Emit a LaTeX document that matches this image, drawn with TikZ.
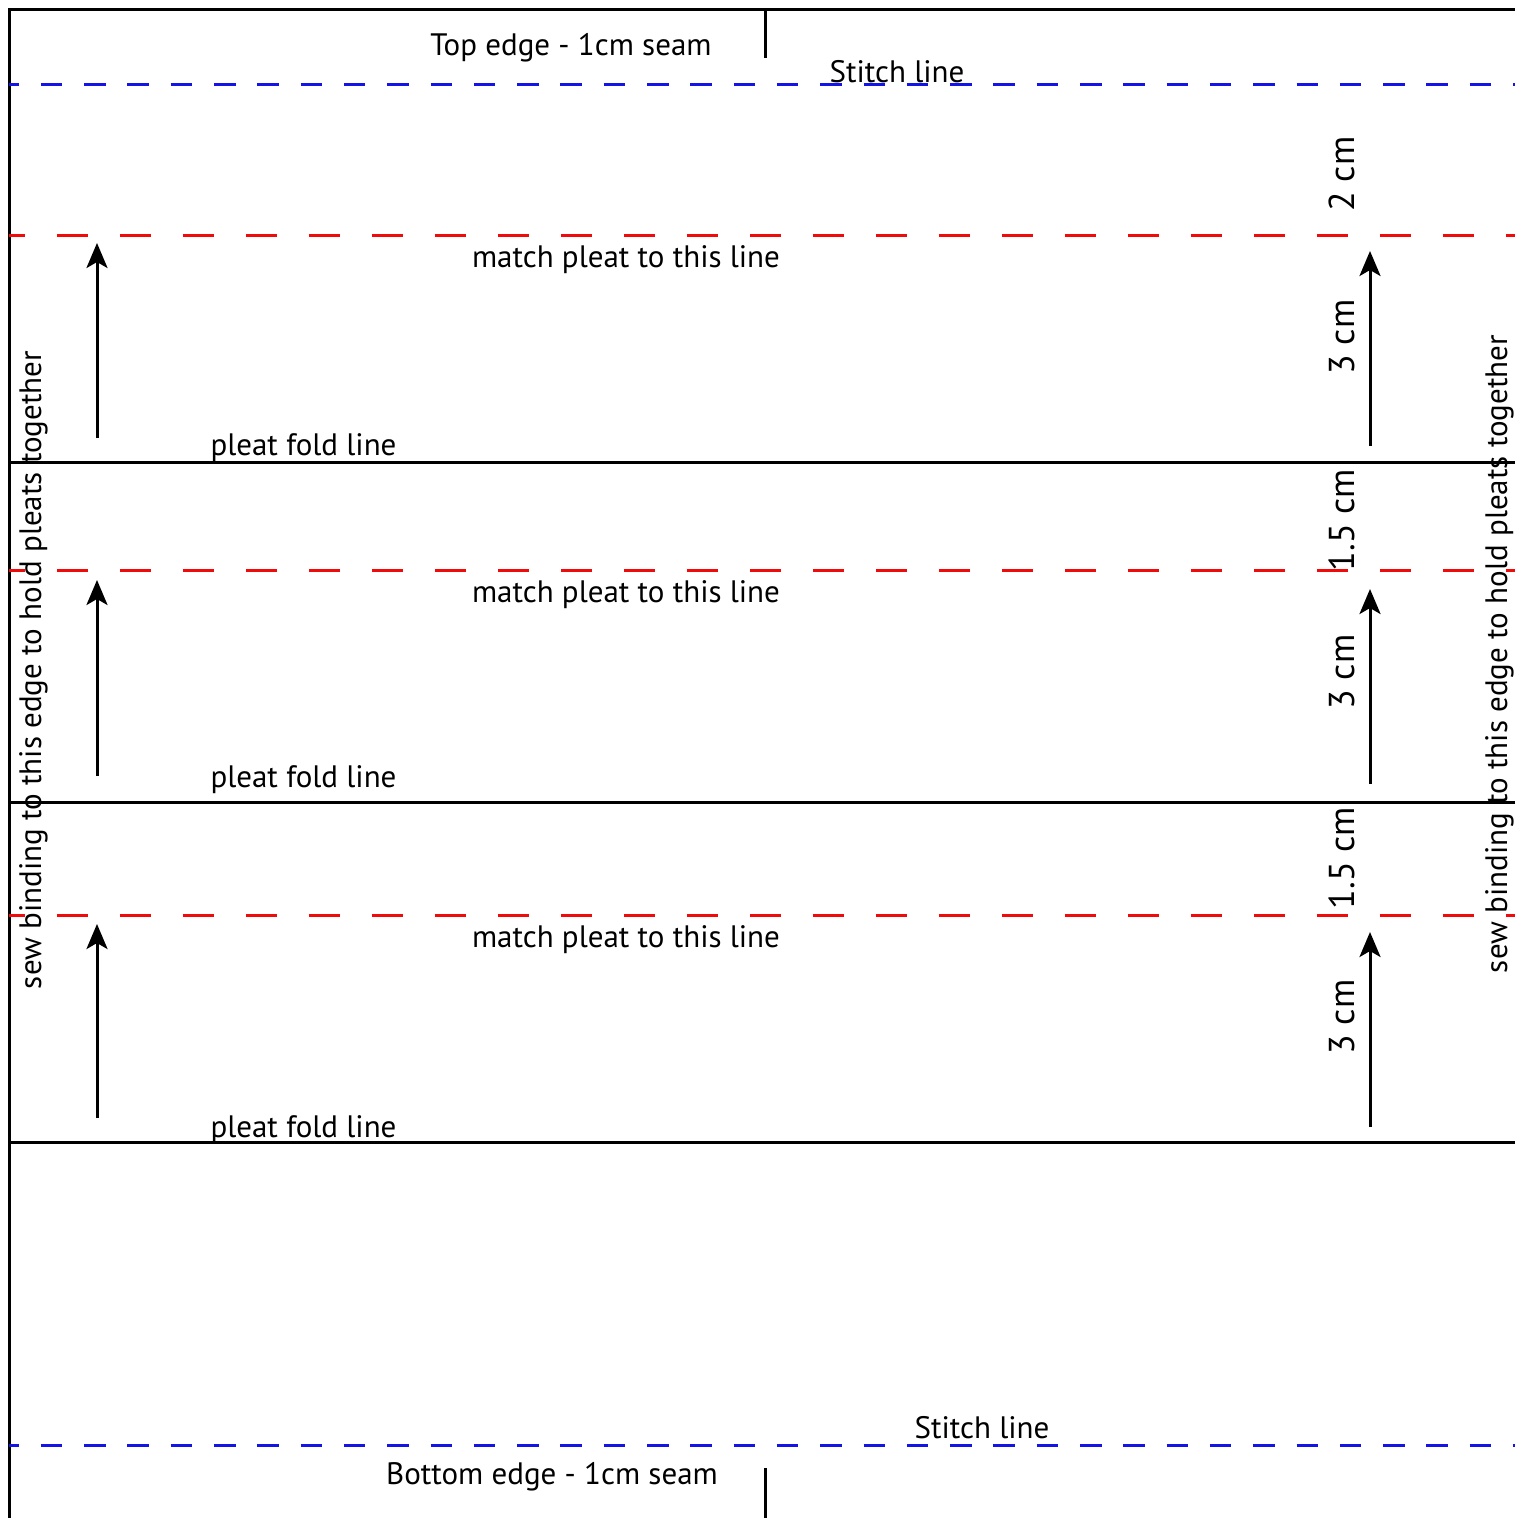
\documentclass[tikz,border=0pt]{standalone}
\usepackage{fontspec}
\setmainfont{PT Sans}
\usetikzlibrary{arrows.meta}
\tikzset{
  blk/.style={line width=3pt, black},
  bluedash/.style={line width=3pt, color={rgb,255:red,20;green,20;blue,230}, dash pattern=on 21.5pt off 21.8pt, dash phase=11.5pt},
  reddash/.style={line width=3pt, color={rgb,255:red,240;green,10;blue,10}, dash pattern=on 31pt off 32pt, dash phase=15pt},
  arr/.style={line width=3pt, -{Stealth[length=25pt, width=21pt, inset=6pt]}},
  lbl/.style={font=\fontsize{31}{36}\selectfont, inner sep=0pt, anchor=base},
  vlbl/.style={font=\fontsize{31}{36}\selectfont, inner sep=0pt, anchor=base, rotate=90},
  cmlbl/.style={font=\fontsize{36}{42}\selectfont, inner sep=0pt, anchor=base, rotate=90}
}
\begin{document}
\begin{tikzpicture}[x=1pt,y=-1pt]
\useasboundingbox (0,0) rectangle (1515,1518);
% frame
\draw[blk] (9,1525) -- (9,9) -- (1525,9);
\draw[blk] (765,9) -- (765,58);
\draw[blk] (765,1468) -- (765,1525);
% stitch lines
\draw[bluedash] (9,84.5) -- (1525,84.5);
\draw[bluedash] (9,1445) -- (1525,1445);
% match lines
\draw[reddash] (9,235) -- (1525,235);
\draw[reddash] (9,570) -- (1525,570);
\draw[reddash] (9,915) -- (1525,915);
% fold lines
\draw[blk] (9,462) -- (1525,462);
\draw[blk] (9,802) -- (1525,802);
\draw[blk] (9,1142) -- (1525,1142);
% arrows
\coordinate (la1s) at (97,438);  \coordinate (la1e) at (97,243);
\coordinate (la2s) at (97,776);  \coordinate (la2e) at (97,580);
\coordinate (la3s) at (97,1118); \coordinate (la3e) at (97,924);
\coordinate (ra1s) at (1370,446);  \coordinate (ra1e) at (1370,251);
\coordinate (ra2s) at (1370,784);  \coordinate (ra2e) at (1370,589);
\coordinate (ra3s) at (1370,1127); \coordinate (ra3e) at (1370,932);
\draw[arr] (la1s) -- (la1e);
\draw[arr] (la2s) -- (la2e);
\draw[arr] (la3s) -- (la3e);
\draw[arr] (ra1s) -- (ra1e);
\draw[arr] (ra2s) -- (ra2e);
\draw[arr] (ra3s) -- (ra3e);
% horizontal labels
\node[lbl] (topedge) at (571,55) {Top edge - 1cm seam};
\node[lbl] (stitchtop) at (897,82) {Stitch line};
\node[lbl] (match1) at (626,267) {match pleat to this line};
\node[lbl] (match2) at (626,602) {match pleat to this line};
\node[lbl] (match3) at (626,947) {match pleat to this line};
\node[lbl] (fold1) at (303.5,455) {pleat fold line};
\node[lbl] (fold2) at (303.5,787) {pleat fold line};
\node[lbl] (fold3) at (303.5,1137) {pleat fold line};
\node[lbl] (stitchbot) at (982,1438) {Stitch line};
\node[lbl] (botedge) at (552,1484) {Bottom edge - 1cm seam};
% vertical labels
\node[vlbl] (sewleft) at (41,670) {sew binding to this edge to hold pleats together};
\node[vlbl] (sewright) at (1507,654) {sew binding to this edge to hold pleats together};
\node[cmlbl] (cm2) at (1354,174) {2 cm};
\node[cmlbl] (cm3a) at (1354,337) {3 cm};
\node[cmlbl] (cm15a) at (1354,520) {1.5 cm};
\node[cmlbl] (cm3b) at (1354,672) {3 cm};
\node[cmlbl] (cm15b) at (1354,858) {1.5 cm};
\node[cmlbl] (cm3c) at (1354,1017) {3 cm};
\end{tikzpicture}
\end{document}
